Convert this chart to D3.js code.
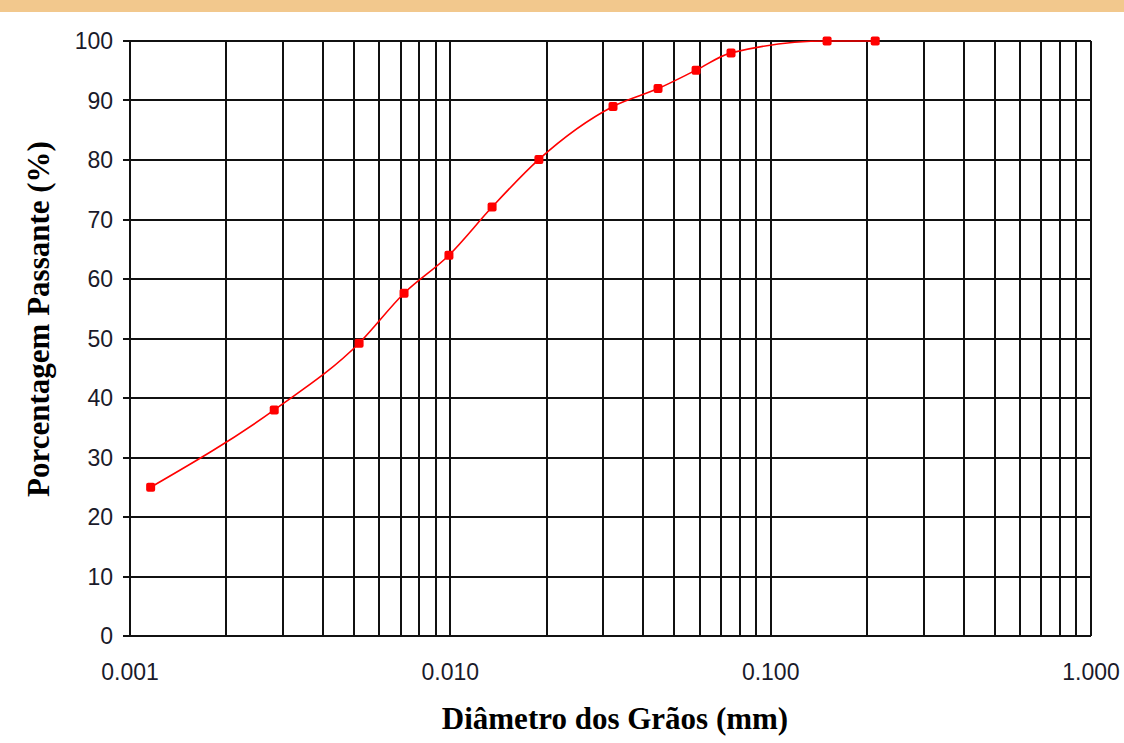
<!DOCTYPE html>
<html lang="pt">
<head>
<meta charset="utf-8">
<title>Curva granulométrica</title>
<script src="https://cdn.jsdelivr.net/npm/d3@7"></script>
<style>
body { margin: 0; background: #fff; }
.grid line { stroke: #111; stroke-width: 2px; shape-rendering: crispEdges; }
.tick-label { font-family: "Liberation Sans", Arial, sans-serif; font-size: 23px; fill: #1a1a2a; }
.axis-title { font-family: "Liberation Serif", "Times New Roman", serif; font-size: 31px; font-weight: bold; fill: #000; }
.curve { fill: none; stroke: #ff0000; stroke-width: 1.6px; }
.marker { fill: #ff0000; }
</style>
</head>
<body>
<script>
"use strict";

// grain diameter (mm) and percent passing
var diameters = [0.00116, 0.00282, 0.00519, 0.00717, 0.0099, 0.0135, 0.0189, 0.0322, 0.0445, 0.0585, 0.0752, 0.150, 0.212];
var passing   = [25, 38, 49.2, 57.6, 64, 72.1, 80.1, 89, 92, 95.1, 98, 100, 100];

var xTickValues = [0.001, 0.01, 0.1, 1];
var xTickLabels = ["0.001", "0.010", "0.100", "1.000"];
var yTickValues = [0, 10, 20, 30, 40, 50, 60, 70, 80, 90, 100];

var width = 1124, height = 743;
var plotLeft = 130, plotRight = 1091, plotTop = 41, plotBottom = 636;

var svg = d3.select("body").append("svg")
    .attr("width", width)
    .attr("height", height);

// band across the top of the page
svg.append("rect")
    .attr("x", 0).attr("y", 0)
    .attr("width", width).attr("height", 12)
    .attr("fill", "#f2c88d");

var x = d3.scaleLog().domain([0.001, 1]).range([plotLeft, plotRight]);
var y = d3.scaleLinear().domain([0, 100]).range([plotBottom, plotTop]);

// vertical grid: 1..9 in each decade
var minorX = [];
[0.001, 0.01, 0.1].forEach(function(d) {
  for (var i = 1; i <= 10; i++) minorX.push(d * i);
});

var grid = svg.append("g").attr("class", "grid");

grid.selectAll(".vx")
    .data(minorX)
  .enter().append("line")
    .attr("class", "vx")
    .attr("x1", function(d) { return Math.round(x(d)); })
    .attr("x2", function(d) { return Math.round(x(d)); })
    .attr("y1", plotTop)
    .attr("y2", plotBottom);

grid.selectAll(".hy")
    .data(yTickValues)
  .enter().append("line")
    .attr("class", "hy")
    .attr("x1", plotLeft - 7)
    .attr("x2", plotRight)
    .attr("y1", function(d) { return Math.round(y(d)); })
    .attr("y2", function(d) { return Math.round(y(d)); });

// y tick labels
svg.selectAll(".ylab")
    .data(yTickValues)
  .enter().append("text")
    .attr("class", "tick-label")
    .attr("x", plotLeft - 17)
    .attr("y", function(d) { return y(d); })
    .attr("dy", "0.36em")
    .attr("text-anchor", "end")
    .text(function(d) { return d; });

// x tick labels
svg.selectAll(".xlab")
    .data(xTickValues)
  .enter().append("text")
    .attr("class", "tick-label")
    .attr("x", function(d) { return x(d); })
    .attr("y", 680)
    .attr("text-anchor", "middle")
    .text(function(d, i) { return xTickLabels[i]; });

// axis titles
svg.append("text")
    .attr("class", "axis-title")
    .attr("x", 615)
    .attr("y", 729)
    .attr("text-anchor", "middle")
    .text("Diâmetro dos Grãos (mm)");

svg.append("text")
    .attr("class", "axis-title")
    .attr("transform", "translate(49,319) rotate(-90)")
    .attr("text-anchor", "middle")
    .text("Porcentagem Passante (%)");

// data
var points = diameters.map(function(d, i) { return [x(d), y(passing[i])]; });

var line = d3.line().curve(d3.curveMonotoneX);

svg.append("path")
    .attr("class", "curve")
    .attr("d", line(points));

svg.selectAll(".marker")
    .data(points)
  .enter().append("rect")
    .attr("class", "marker")
    .attr("x", function(d) { return d[0] - 4.5; })
    .attr("y", function(d) { return d[1] - 4.5; })
    .attr("width", 9)
    .attr("height", 9)
    .attr("rx", 2);
</script>
</body>
</html>
